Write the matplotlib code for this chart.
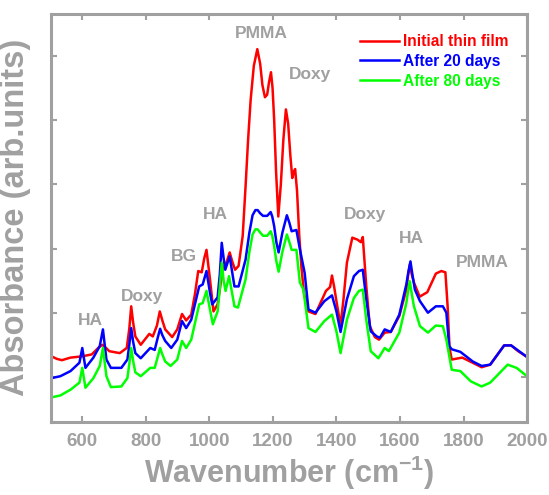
import matplotlib
matplotlib.use("Agg")
import matplotlib.pyplot as plt

plt.rcParams["font.family"] = ["Liberation Sans", "DejaVu Sans"]
plt.rcParams["mathtext.fontset"] = "custom"
plt.rcParams["mathtext.rm"] = "Liberation Sans"
plt.rcParams["mathtext.bf"] = "Liberation Sans:bold"

GRAY = "#A0A0A0"

wn_red = [503, 520, 536, 563, 600, 630, 650, 663, 675, 685, 718, 740, 748, 754, 760, 767, 784, 811, 822, 835, 844, 852,
          861, 883, 899, 914, 927, 943, 955, 965, 976, 984, 991, 1002, 1013, 1026, 1042, 1055, 1064, 1072, 1081, 1092,
          1105, 1114, 1122, 1130, 1140, 1151, 1160, 1167, 1175, 1182, 1188, 1194, 1199, 1204, 1210, 1217, 1225, 1233,
          1241, 1248, 1255, 1261, 1266, 1270, 1276, 1283, 1290, 1298, 1312, 1334, 1367, 1380, 1386, 1393, 1400, 1413,
          1422, 1433, 1450, 1466, 1477, 1483, 1494, 1505, 1521, 1534, 1552, 1571, 1598, 1620, 1626, 1631, 1637, 1644,
          1662, 1686, 1713, 1730, 1743, 1750, 1756, 1763, 1796, 1829, 1857, 1884, 1928, 1950, 1972, 2000]
ab_red = [0.32, 0.28, 0.26, 0.30, 0.32, 0.35, 0.45, 0.50, 0.45, 0.40, 0.37, 0.45, 0.75, 1.10, 0.85, 0.63, 0.50, 0.67,
          0.63, 0.80, 1.02, 0.88, 0.74, 0.62, 0.74, 0.98, 0.88, 0.97, 1.30, 1.65, 1.63, 1.85, 1.98, 1.52, 1.02, 1.13,
          1.67, 1.80, 1.94, 1.80, 1.67, 1.73, 2.20, 2.97, 3.70, 4.32, 4.85, 5.11, 4.88, 4.55, 4.36, 4.40, 4.60, 4.75,
          4.50, 4.01, 3.20, 2.50, 3.00, 3.70, 4.17, 3.95, 3.45, 3.10, 3.20, 3.24, 2.90, 2.20, 1.70, 1.30, 1.02, 0.98,
          1.34, 1.40, 1.58, 1.40, 1.18, 0.80, 1.20, 1.78, 2.17, 2.14, 2.10, 2.18, 1.41, 0.79, 0.62, 0.58, 0.69, 0.70,
          0.95, 1.36, 1.60, 1.75, 1.60, 1.47, 1.25, 1.32, 1.61, 1.65, 1.63, 1.10, 0.45, 0.27, 0.30, 0.22, 0.15, 0.19,
          0.49, 0.49, 0.40, 0.31]

wn_blue = [503, 531, 563, 591, 600, 610, 635, 655, 665, 676, 690, 723, 742, 748, 754, 760, 767, 784, 814, 828, 838, 845,
           852, 861, 880, 899, 914, 927, 943, 968, 979, 991, 1002, 1009, 1026, 1033, 1039, 1045, 1050, 1064, 1079,
           1092, 1114, 1126, 1136, 1145, 1152, 1160, 1169, 1182, 1193, 1198, 1204, 1211, 1218, 1230, 1244, 1252, 1259,
           1274, 1285, 1300, 1312, 1334, 1362, 1386, 1400, 1413, 1433, 1455, 1471, 1483, 1494, 1508, 1527, 1537, 1552,
           1571, 1598, 1620, 1627, 1633, 1639, 1647, 1663, 1688, 1713, 1735, 1746, 1755, 1763, 1790, 1829, 1857, 1884,
           1928, 1950, 2000]
ab_blue = [-0.02, 0.01, 0.09, 0.22, 0.45, 0.14, 0.30, 0.48, 0.74, 0.27, 0.14, 0.14, 0.27, 0.50, 0.76, 0.55, 0.37, 0.29,
           0.45, 0.42, 0.62, 0.75, 0.65, 0.56, 0.45, 0.58, 0.87, 0.76, 0.89, 1.41, 1.44, 1.65, 1.31, 1.13, 1.24, 1.60,
           2.09, 1.85, 1.67, 1.88, 1.41, 1.41, 1.83, 2.25, 2.52, 2.60, 2.60, 2.55, 2.51, 2.51, 2.57, 2.50, 2.35, 2.10,
           1.94, 2.25, 2.52, 2.40, 2.27, 2.29, 1.99, 1.62, 1.05, 1.00, 1.18, 1.27, 1.02, 0.70, 1.21, 1.57, 1.65, 1.67,
           1.21, 0.71, 0.63, 0.61, 0.74, 0.70, 0.97, 1.44, 1.65, 1.80, 1.60, 1.36, 1.18, 1.00, 1.10, 1.10, 1.00, 0.48,
           0.43, 0.39, 0.24, 0.17, 0.19, 0.49, 0.49, 0.31]

wn_green = [503, 531, 563, 591, 600, 610, 635, 655, 665, 676, 690, 723, 742, 748, 754, 760, 767, 784, 814, 828, 838,
            845, 852, 861, 878, 899, 914, 927, 943, 968, 979, 991, 1002, 1011, 1026, 1033, 1039, 1045, 1051, 1062,
            1079, 1090, 1114, 1126, 1136, 1145, 1152, 1160, 1169, 1182, 1193, 1198, 1204, 1211, 1218, 1230, 1244,
            1252, 1259, 1274, 1285, 1296, 1312, 1334, 1362, 1386, 1400, 1413, 1433, 1455, 1471, 1483, 1494, 1508,
            1532, 1552, 1565, 1598, 1620, 1626, 1631, 1637, 1644, 1663, 1688, 1713, 1735, 1746, 1763, 1790, 1823,
            1857, 1884, 1939, 1967, 2000]
ab_green = [-0.32, -0.29, -0.20, -0.09, 0.14, -0.17, -0.02, 0.17, 0.45, 0.01, -0.16, -0.15, -0.02, 0.20, 0.45, 0.25,
            0.07, 0.01, 0.14, 0.14, 0.32, 0.45, 0.35, 0.24, 0.17, 0.27, 0.56, 0.45, 0.58, 1.13, 1.15, 1.34, 1.05, 0.82,
            1.02, 1.40, 1.78, 1.50, 1.34, 1.57, 1.10, 1.08, 1.52, 1.95, 2.22, 2.30, 2.30, 2.25, 2.20, 2.20, 2.27, 2.20,
            2.04, 1.80, 1.64, 1.95, 2.22, 2.10, 1.98, 1.98, 1.47, 1.36, 0.76, 0.70, 0.87, 0.97, 0.71, 0.37, 0.89, 1.23,
            1.34, 1.36, 0.89, 0.40, 0.29, 0.45, 0.40, 0.69, 1.15, 1.35, 1.49, 1.30, 1.10, 0.79, 0.69, 0.80, 0.79, 0.58,
            0.11, 0.09, -0.07, -0.15, -0.09, 0.19, 0.14, 0.01]

labels = ["Initial thin film", "After 20 days", "After 80 days"]
colors = ["#FF0000", "#0000FF", "#00FF00"]

ann_text = ["PMMA", "Doxy", "HA", "BG", "Doxy", "HA", "Doxy", "HA", "PMMA"]
ann_x = [1163, 1318, 1018, 921, 787, 626, 1490, 1637, 1860]
ann_y = [5.36, 4.71, 2.53, 1.88, 1.26, 0.88, 2.53, 2.15, 1.78]

xticks = [600, 800, 1000, 1200, 1400, 1600, 1800, 2000]

fig = plt.figure(figsize=(5.49, 4.95), dpi=100)
ax = fig.add_axes([0.092, 0.148, 0.868, 0.824])

for wn, ab, lab, c in zip([wn_red, wn_blue, wn_green], [ab_red, ab_blue, ab_green], labels, colors):
    ax.plot(wn, ab, color=c, lw=1.8, label=lab, solid_joinstyle="round")

for t, x, y in zip(ann_text, ann_x, ann_y):
    ax.text(x, y, t, color=GRAY, fontsize=12.5, fontweight="bold", ha="center", va="center")

ax.set_xlim(500, 2000)
ax.set_ylim(-0.7, 5.66)
ax.set_xticks(xticks)
ax.set_yticks([0, 1, 2, 3, 4, 5])
ax.set_yticklabels([])
ax.tick_params(direction="in", length=4, width=1.5, color=GRAY, top=True, right=True,
               labelsize=13.5, labelcolor=GRAY, pad=8)
for lab in ax.get_xticklabels():
    lab.set_fontweight("bold")
for s in ax.spines.values():
    s.set_color(GRAY)
    s.set_linewidth(2.2)

ax.set_xlabel("Wavenumber (cm$^{\\mathbf{-1}}$)", fontsize=22, fontweight="bold", color=GRAY, labelpad=3)
ax.set_ylabel("Absorbance (arb.units)", fontsize=23.5, fontweight="bold", color=GRAY, labelpad=6)

leg = ax.legend(loc="upper left", bbox_to_anchor=(0.649, 0.950), frameon=False,
                handlelength=2.5, handletextpad=0.3, labelspacing=0.3, borderpad=0, borderaxespad=0,
                prop={"weight": "bold", "size": 11.2})
for txt, c in zip(leg.get_texts(), colors):
    txt.set_color(c)

fig.savefig("out.png", dpi=100)
